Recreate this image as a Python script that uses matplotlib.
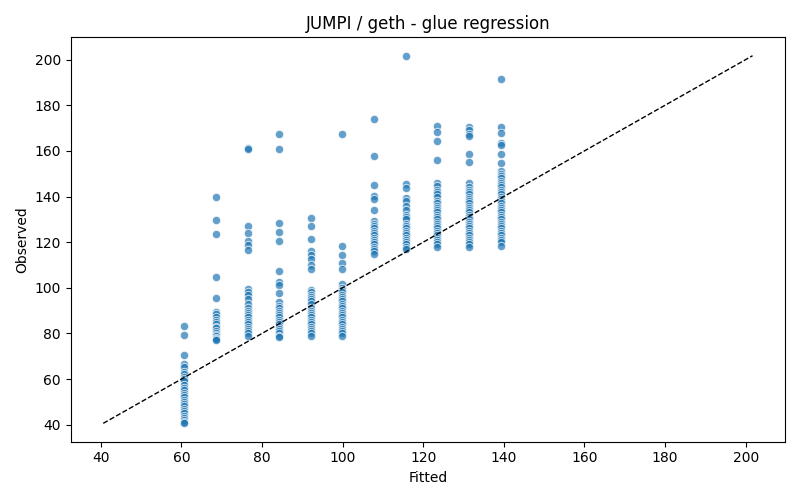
import numpy as np
import matplotlib
matplotlib.use("Agg")
import matplotlib.pyplot as plt

# fitted level of each column
fitted_levels = [60.7, 68.5, 76.4, 84.2, 92.1, 99.9, 107.8, 115.6, 123.5, 131.3, 139.2]

# observed values read per column
obs_60 = [83.4, 79.3, 70.6, 66.7, 65.5, 63.3, 62.2, 61.0, 60.1, 59.0, 57.2, 56.0, 55.0,
          54.0, 53.0, 52.0, 51.0, 50.0, 49.0, 48.0, 47.0, 46.0, 45.0, 44.0, 43.0, 42.0,
          41.0, 40.6]
obs_68 = [140.0, 129.6, 123.4, 104.6, 95.5, 89.3, 88.5, 87.0, 86.0, 85.0, 84.0, 83.0,
          82.5, 81.0, 80.0, 79.5, 79.0, 78.0, 77.5, 77.0]
obs_76 = [161.4, 161.0, 126.9, 124.2, 120.6, 118.7, 116.6, 99.5, 98.0, 97.0, 95.0, 93.0,
          91.0, 90.0, 89.0, 88.0, 87.0, 86.0, 85.0, 84.0, 83.0, 82.0, 81.0, 80.0, 79.0]
obs_84 = [167.2, 161.0, 128.6, 124.5, 120.3, 107.2, 102.7, 101.2, 97.7, 93.6, 92.0, 91.0,
          90.0, 89.0, 88.0, 87.0, 86.0, 85.0, 84.0, 83.0, 82.0, 81.0, 80.0, 79.0, 78.3]
obs_92 = [130.8, 126.9, 121.3, 116.2, 114.3, 112.6, 109.9, 108.2, 99.2, 98.0, 97.0, 96.0,
          95.0, 94.0, 93.0, 91.0, 90.0, 89.0, 88.0, 87.0, 86.0, 85.0, 84.0, 83.0, 82.0,
          81.0, 80.0, 79.0]
obs_100 = [167.2, 118.1, 114.3, 110.8, 108.2, 101.6, 100.0, 99.0, 98.0, 97.0, 96.0, 95.0,
           94.0, 93.0, 92.0, 91.0, 90.0, 89.0, 88.0, 87.0, 86.0, 85.0, 84.0, 83.0, 82.0,
           81.0, 80.0, 79.0]
obs_108 = [174.1, 157.9, 145.2, 140.2, 139.1, 133.9, 129.3, 127.9, 127.0, 126.0, 125.0,
           124.0, 123.0, 122.0, 121.0, 120.0, 119.0, 118.0, 117.0, 116.0, 114.8]
obs_116 = [201.7, 145.4, 143.9, 139.5, 138.0, 136.0, 134.0, 132.0, 131.0, 130.0, 128.0,
           127.0, 126.0, 125.0, 124.0, 123.0, 122.0, 121.0, 120.0, 119.0, 118.0, 116.9]
obs_123 = [171.1, 168.4, 164.3, 155.8, 145.8, 144.6, 143.0, 142.0, 141.0, 140.0, 138.0,
           137.0, 136.0, 135.0, 134.0, 133.0, 132.0, 131.0, 130.0, 129.0, 128.0, 127.0,
           126.0, 125.0, 124.0, 123.0, 122.0, 121.0, 120.0, 119.0, 117.7]
obs_131 = [170.6, 169.1, 167.6, 166.5, 158.8, 155.1, 145.8, 144.0, 143.0, 142.0, 141.0,
           140.0, 139.0, 138.0, 137.0, 136.0, 135.0, 134.0, 133.0, 132.0, 131.0, 130.0,
           129.0, 128.0, 127.0, 126.0, 125.0, 124.0, 123.0, 122.0, 121.0, 120.0, 119.0,
           117.7]
obs_139 = [191.7, 170.6, 168.0, 163.6, 162.4, 158.5, 154.8, 151.2, 150.0, 149.0, 148.0,
           147.0, 146.0, 145.0, 144.0, 143.0, 142.0, 141.0, 140.0, 139.0, 138.0, 137.0,
           136.0, 135.0, 134.0, 133.0, 132.0, 131.0, 130.0, 129.0, 128.0, 127.0, 126.0,
           125.0, 124.0, 123.0, 122.0, 121.0, 120.0, 118.4]

columns = [obs_60, obs_68, obs_76, obs_84, obs_92, obs_100,
           obs_108, obs_116, obs_123, obs_131, obs_139]

fitted = np.concatenate([[f] * len(c) for f, c in zip(fitted_levels, columns)])
observed = np.concatenate(columns)

fig, ax = plt.subplots(figsize=(8, 5), dpi=100)
ax.scatter(fitted, observed, s=36, color="#1f77b4", alpha=0.7,
           edgecolor="w", linewidth=0.75)

lo = min(fitted.min(), observed.min())
hi = max(fitted.max(), observed.max())
ax.plot([lo, hi], [lo, hi], "k--", linewidth=1)

ax.set_title("JUMPI / geth - glue regression")
ax.set_xlabel("Fitted")
ax.set_ylabel("Observed")
fig.tight_layout()
fig.savefig("out.png")
